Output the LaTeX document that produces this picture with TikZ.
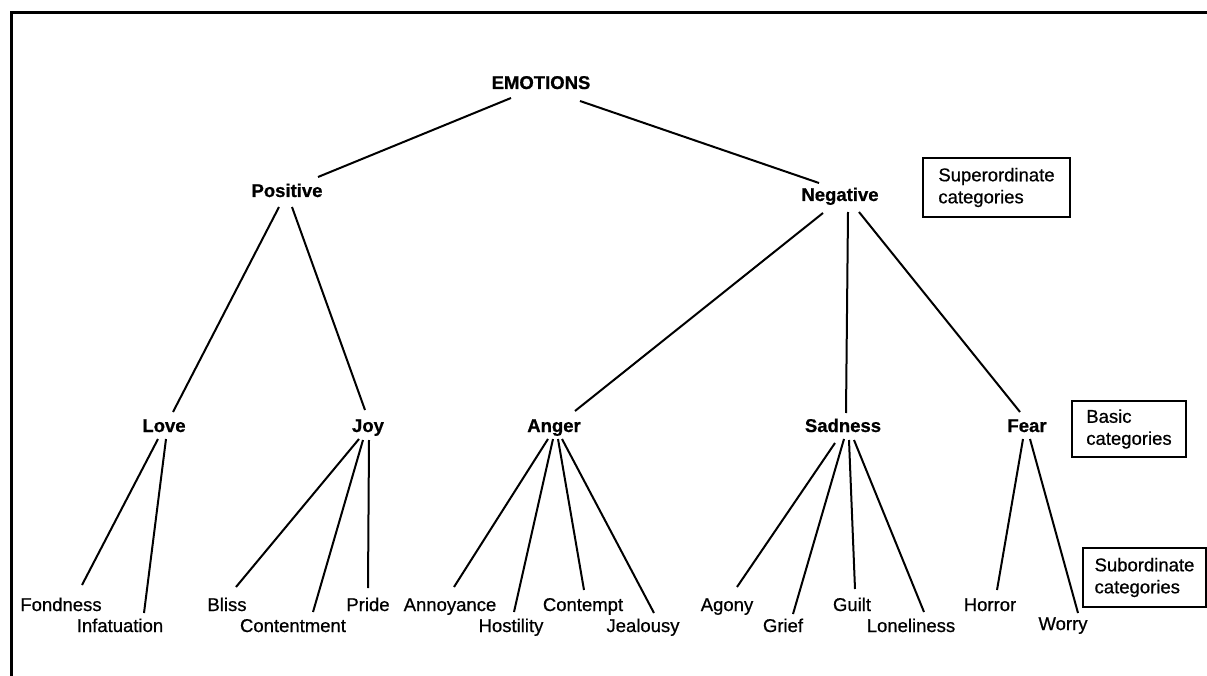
\documentclass[tikz,border=0pt]{standalone}
\usepackage{fontspec}
\setmainfont{Liberation Sans}[BoldFeatures={FakeBold=0.8}]
\newfontfamily\medfont{Liberation Sans}[FakeBold=0.7]
\usetikzlibrary{calc}
\begin{document}
\begin{tikzpicture}[x=1pt,y=-1pt,
  every node/.style={inner sep=0pt, font=\fontsize{18.5}{22}\selectfont\medfont},
  headnode/.style={anchor=base, font=\fontsize{18.5}{22}\selectfont\normalfont\bfseries},
  leafnode/.style={anchor=base},
  catbox/.style={draw, line width=1.6pt, align=left},
  conn/.style={line width=2pt},
  frame/.style={line width=3pt}]
\useasboundingbox (0,0) rectangle (1207,676);
\fill[white] (0,0) rectangle (1207,676);
% frame
\coordinate (fa) at (11,676);
\coordinate (fb) at (11,13);
\coordinate (fc) at (1207,13);
\draw[frame] (fa) -- (fb) -- (fc);

% nodes
\node[headnode] (emo) at (541,89) {EMOTIONS};
\node[headnode] (pos) at (287,197) {Positive};
\node[headnode] (neg) at (840,201) {Negative};
\node[headnode] (love) at (164,432) {Love};
\node[headnode] (joy) at (368,432) {Joy};
\node[headnode] (anger) at (554,432) {Anger};
\node[headnode] (sad) at (843,432) {Sadness};
\node[headnode] (fear) at (1027,432) {Fear};

\node[leafnode] (fond) at (61,611) {Fondness};
\node[leafnode] (infat) at (120,632) {Infatuation};
\node[leafnode] (bliss) at (227,611) {Bliss};
\node[leafnode] (cont) at (293,632) {Contentment};
\node[leafnode] (pride) at (368,611) {Pride};
\node[leafnode] (annoy) at (450,611) {Annoyance};
\node[leafnode] (host) at (511,632) {Hostility};
\node[leafnode] (contempt) at (583,611) {Contempt};
\node[leafnode] (jeal) at (643,632) {Jealousy};
\node[leafnode] (agony) at (727,611) {Agony};
\node[leafnode] (grief) at (783,632) {Grief};
\node[leafnode] (guilt) at (852,611) {Guilt};
\node[leafnode] (lonely) at (911,632) {Loneliness};
\node[leafnode] (horror) at (990,611) {Horror};
\node[leafnode] (worry) at (1063,630) {Worry};

% category boxes
\node[catbox, minimum width=147pt, minimum height=59pt] (supbox) at (996.5,187.5) {Superordinate\\categories};
\node[catbox, minimum width=114pt, minimum height=56pt] (basbox) at (1129,429) {Basic\\categories};
\node[catbox, minimum width=123pt, minimum height=59pt] (subbox) at (1144.5,577.5) {Subordinate\\categories};

% connectors
\draw[conn] ($(emo.base)+(-30,9)$) -- ($(pos.base)+(31,-20)$);
\draw[conn] ($(emo.base)+(39,12)$) -- ($(neg.base)+(-21,-18)$);

\draw[conn] ($(pos.base)+(-8,10)$) -- ($(love.base)+(9,-20)$);
\draw[conn] ($(pos.base)+(5,10)$) -- ($(joy.base)+(-3,-22)$);

\draw[conn] ($(neg.base)+(-17,12)$) -- ($(anger.base)+(21,-21)$);
\draw[conn] ($(neg.base)+(8,11)$) -- ($(sad.base)+(3,-19)$);
\draw[conn] ($(neg.base)+(19,11)$) -- ($(fear.base)+(-7,-20)$);

\draw[conn] ($(love.base)+(-6,7)$) -- ($(fond.base)+(21,-26)$);
\draw[conn] ($(love.base)+(2,7)$) -- ($(infat.base)+(24,-19)$);

\draw[conn] ($(joy.base)+(-9,7)$) -- ($(bliss.base)+(9,-24)$);
\draw[conn] ($(joy.base)+(-5,8)$) -- ($(cont.base)+(20,-20)$);
\draw[conn] ($(joy.base)+(1,8)$) -- ($(pride.base)+(0,-23)$);

\draw[conn] ($(anger.base)+(-6,7)$) -- ($(annoy.base)+(4,-24)$);
\draw[conn] ($(anger.base)+(-1,7)$) -- ($(host.base)+(3,-20)$);
\draw[conn] ($(anger.base)+(4,7)$) -- ($(contempt.base)+(1,-21)$);
\draw[conn] ($(anger.base)+(8,7)$) -- ($(jeal.base)+(11,-19)$);

\draw[conn] ($(sad.base)+(-8,11)$) -- ($(agony.base)+(10,-24)$);
\draw[conn] ($(sad.base)+(1,7)$) -- ($(grief.base)+(10,-18)$);
\draw[conn] ($(sad.base)+(6,8)$) -- ($(guilt.base)+(3,-22)$);
\draw[conn] ($(sad.base)+(11,8)$) -- ($(lonely.base)+(13,-20)$);

\draw[conn] ($(fear.base)+(-4,7)$) -- ($(horror.base)+(7,-21)$);
\draw[conn] ($(fear.base)+(3,7)$) -- ($(worry.base)+(15,-17)$);
\end{tikzpicture}
\end{document}
